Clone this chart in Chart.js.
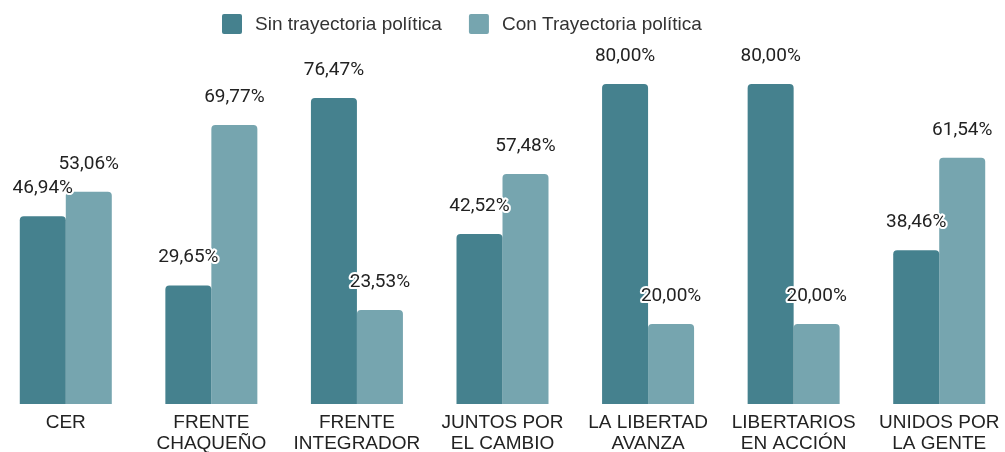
<!DOCTYPE html>
<html>
<head>
<meta charset="utf-8">
<script src="https://cdn.jsdelivr.net/npm/chart.js@4"></script>
<style>
    html, body { margin: 0; padding: 0; background: #fff; overflow: hidden; }
    #wrap { position: relative; width: 1019px; height: 452px; margin-left: -7px; }
</style>
</head>
<body>
<div id="wrap"><canvas id="chart"></canvas></div>
<script>
const categories = ["CER", ["FRENTE", "CHAQUEÑO"], ["FRENTE", "INTEGRADOR"], ["JUNTOS POR", "EL CAMBIO"],
    ["LA LIBERTAD", "AVANZA"], ["LIBERTARIOS", "EN ACCIÓN"], ["UNIDOS POR", "LA GENTE"]];
const sinTrayectoria = [46.94, 29.65, 76.47, 42.52, 80.00, 80.00, 38.46];
const conTrayectoria = [53.06, 69.77, 23.53, 57.48, 20.00, 20.00, 61.54];

function pct(n) {
    return n.toFixed(2).replace(".", ",") + "%";
}

// value labels above each bar, white halo like the original
const valueLabels = {
    id: "valueLabels",
    afterDatasetsDraw(chart) {
        const ctx = chart.ctx;
        ctx.save();
        ctx.font = "19px Roboto";
        ctx.textAlign = "center";
        ctx.textBaseline = "middle";
        ctx.lineJoin = "round";
        chart.data.datasets.forEach((ds, i) => {
            chart.getDatasetMeta(i).data.forEach((bar, j) => {
                const text = pct(ds.data[j]);
                ctx.lineWidth = 4;
                ctx.strokeStyle = "#fff";
                ctx.strokeText(text, bar.x, bar.y - 28);
                ctx.fillStyle = "#222";
                ctx.fillText(text, bar.x, bar.y - 28);
            });
        });
        ctx.restore();
    }
};

// legend sits a bit left of centre in the original, so draw it by hand
const topLegend = {
    id: "topLegend",
    afterDraw(chart) {
        const ctx = chart.ctx;
        ctx.save();
        ctx.font = "19px 'Liberation Sans'";
        ctx.textBaseline = "middle";
        let x = 229;
        const y = 24;
        chart.data.datasets.forEach(ds => {
            ctx.fillStyle = ds.backgroundColor;
            ctx.beginPath();
            ctx.roundRect(x, y - 10, 20, 20, 2);
            ctx.fill();
            ctx.fillStyle = "#333";
            ctx.fillText(ds.label, x + 33, y + 1);
            x += 33 + ctx.measureText(ds.label).width + 27;
        });
        ctx.restore();
    }
};

new Chart(document.getElementById("chart"), {
    type: "bar",
    data: {
        labels: categories,
        datasets: [
            { label: "Sin trayectoria política", data: sinTrayectoria, backgroundColor: "#45818e" },
            { label: "Con Trayectoria política", data: conTrayectoria, backgroundColor: "#76a5af" }
        ]
    },
    options: {
        responsive: true,
        maintainAspectRatio: false,
        animation: false,
        layout: { padding: { top: 4 } },
        datasets: {
            bar: { categoryPercentage: 0.632, barPercentage: 1, borderRadius: 4 }
        },
        plugins: {
            legend: { display: false },
            tooltip: { enabled: false }
        },
        scales: {
            x: {
                grid: { display: false, drawTicks: false },
                border: { display: false },
                ticks: {
                    font: { family: "Liberation Sans", size: 19, lineHeight: 1.1 },
                    color: "#222",
                    padding: 8,
                    maxRotation: 0,
                    autoSkip: false
                },
                afterFit: scale => { scale.height = 48; }
            },
            y: {
                display: false,
                min: 0,
                max: 100
            }
        }
    },
    plugins: [valueLabels, topLegend]
});
</script>
</body>
</html>
